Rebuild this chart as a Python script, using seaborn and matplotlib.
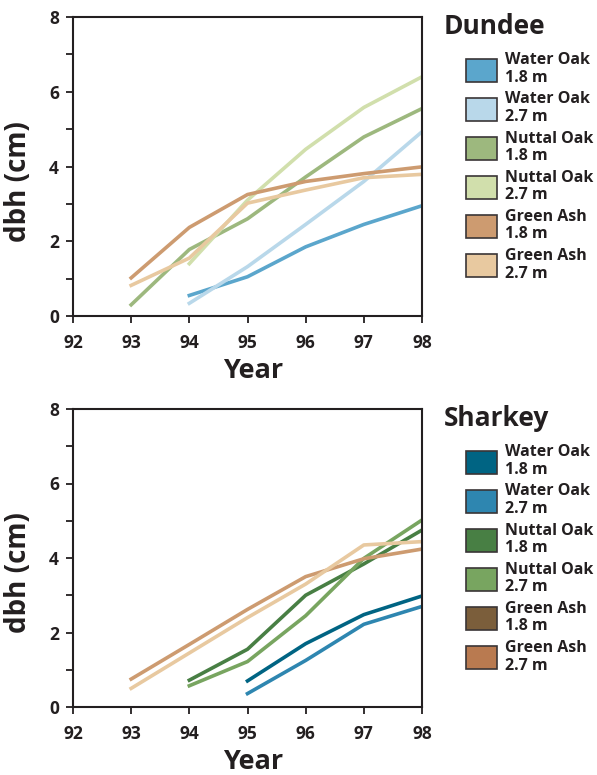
import matplotlib
matplotlib.use('Agg')
import matplotlib.pyplot as plt
import matplotlib.patches as mpatches
import seaborn as sns
import pandas as pd

# 数据
years = [93, 94, 95, 96, 97, 98]
series_labels = ['Water Oak\n1.8 m', 'Water Oak\n2.7 m', 'Nuttal Oak\n1.8 m',
                 'Nuttal Oak\n2.7 m', 'Green Ash\n1.8 m', 'Green Ash\n2.7 m']

dundee_water_18 = [None, 0.55, 1.05, 1.85, 2.45, 2.95]
dundee_water_27 = [None, 0.34, 1.32, 2.45, 3.6, 4.93]
dundee_nuttal_18 = [0.3, 1.78, 2.6, 3.72, 4.79, 5.55]
dundee_nuttal_27 = [None, 1.4, 3.1, 4.46, 5.58, 6.4]
dundee_ash_18 = [1.02, 2.37, 3.25, 3.6, 3.81, 3.99]
dundee_ash_27 = [0.82, 1.55, 3.02, 3.37, 3.7, 3.79]

sharkey_water_18 = [None, None, 0.7, 1.7, 2.48, 2.98]
sharkey_water_27 = [None, None, 0.36, 1.25, 2.22, 2.7]
sharkey_nuttal_18 = [None, 0.72, 1.55, 3.0, 3.84, 4.75]
sharkey_nuttal_27 = [None, 0.57, 1.22, 2.45, 3.99, 5.02]
sharkey_ash_18 = [0.75, 1.68, 2.62, 3.5, 3.98, 4.24]
sharkey_ash_27 = [0.5, 1.45, 2.4, 3.3, 4.35, 4.44]

dundee_colors = ['#5ba6cc', '#b9d8ea', '#9db87e', '#d1dfac', '#cd9b70', '#e8c9a0']
sharkey_colors = ['#006483', '#2e86b0', '#487f44', '#78a560', '#7b5e3b', '#b97a50']
# 图中Sharkey的Green Ash线条实际用了Dundee的颜色
sharkey_line_colors = sharkey_colors[:4] + dundee_colors[4:]

dark = '#231f20'
plt.rcParams['font.family'] = ['Open Sans', 'DejaVu Sans']


def make_df(values):
    rows = []
    for lab, vals in zip(series_labels, values):
        for y, v in zip(years, vals):
            if v is not None:
                rows.append({'year': y, 'dbh': v, 'series': lab})
    return pd.DataFrame(rows)


dundee_df = make_df([dundee_water_18, dundee_water_27, dundee_nuttal_18,
                     dundee_nuttal_27, dundee_ash_18, dundee_ash_27])
sharkey_df = make_df([sharkey_water_18, sharkey_water_27, sharkey_nuttal_18,
                      sharkey_nuttal_27, sharkey_ash_18, sharkey_ash_27])

fig = plt.figure(figsize=(5.97, 7.75), dpi=100)
W, H = 597, 775
ax1 = fig.add_axes([73 / W, 1 - 316 / H, 349 / W, 299 / H])
ax2 = fig.add_axes([73 / W, 1 - 707 / H, 349 / W, 298 / H])

panels = [(ax1, dundee_df, dundee_colors, dundee_colors, 'Dundee', 17),
          (ax2, sharkey_df, sharkey_line_colors, sharkey_colors, 'Sharkey', 409)]

for ax, df, line_cols, leg_cols, title, top_px in panels:
    sns.lineplot(data=df, x='year', y='dbh', hue='series', hue_order=series_labels,
                 palette=dict(zip(series_labels, line_cols)), linewidth=2.6,
                 legend=False, ax=ax)
    ax.set_xlim(92, 98)
    ax.set_ylim(0, 8)
    ax.set_xticks(range(92, 99))
    ax.set_yticks([0, 2, 4, 6, 8])
    ax.set_yticks([1, 3, 5, 7], minor=True)
    ax.tick_params(axis='both', which='major', direction='out', length=5, width=1.3,
                   color=dark, labelsize=12.5, labelcolor=dark)
    ax.tick_params(axis='x', which='major', pad=8)
    ax.tick_params(axis='y', which='major', pad=5)
    ax.tick_params(axis='y', which='minor', direction='out', length=5, width=1.3, color=dark)
    for lbl in ax.get_xticklabels() + ax.get_yticklabels():
        lbl.set_fontweight('bold')
    for s in ax.spines.values():
        s.set_color(dark)
        s.set_linewidth(1.5)
    ax.set_xlabel('Year', fontsize=19.5, fontweight='bold', color=dark)
    ax.set_ylabel('dbh (cm)', fontsize=20, fontweight='bold', color=dark)
    ax.xaxis.set_label_coords(0.516, -0.14)
    ax.yaxis.set_label_coords(-0.115, 0.45)

    fig.text(444 / W, 1 - (top_px - 4) / H, title, fontsize=19, fontweight='bold',
             color=dark, ha='left', va='top')
    handles = [mpatches.Patch(facecolor=c, edgecolor='#3a3536', linewidth=1.2)
               for c in leg_cols]
    leg = fig.legend(handles, series_labels, loc='upper left',
                     bbox_to_anchor=(460 / W, 1 - (top_px + 29) / H),
                     frameon=False, fontsize=11.5, handlelength=1.9, handleheight=1.85,
                     handletextpad=0.5, labelspacing=0.33, borderaxespad=0)
    for t in leg.get_texts():
        t.set_fontweight('bold')
        t.set_color(dark)
        t.set_linespacing(1.15)

fig.savefig('out.png', dpi=100)
plt.close('all')
